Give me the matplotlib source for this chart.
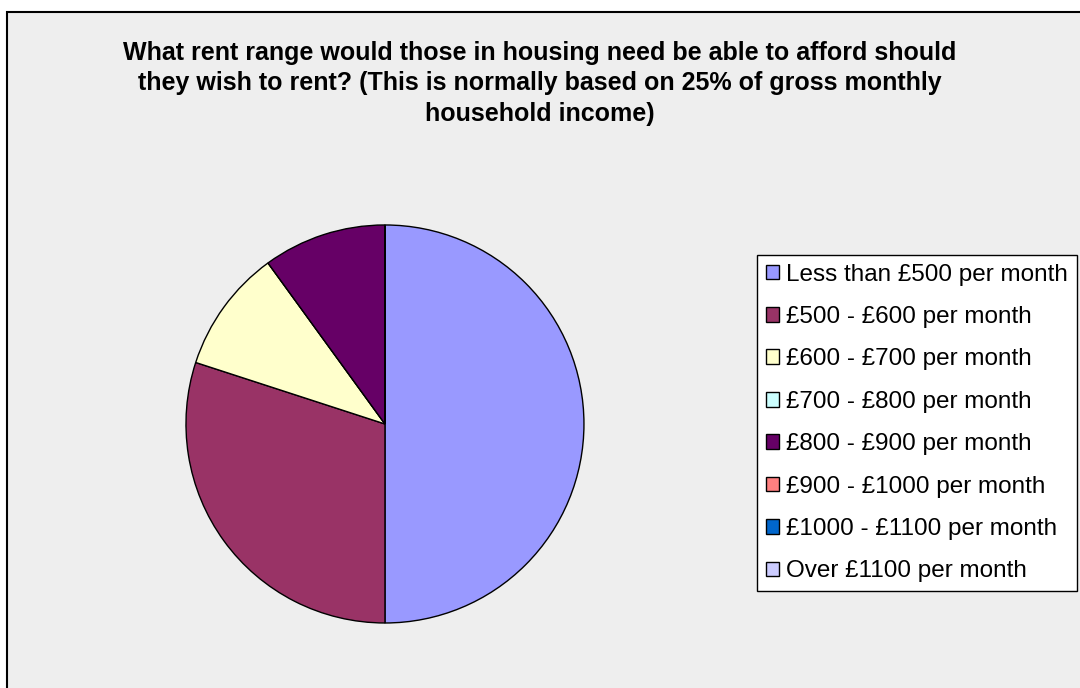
import matplotlib.pyplot as plt
from matplotlib.patches import Rectangle

plt.rcParams['font.family'] = ['Liberation Sans', 'DejaVu Sans']

# Rent bands and share of households (percent)
bands = ['Less than £500 per month', '£500 - £600 per month', '£600 - £700 per month',
         '£700 - £800 per month', '£800 - £900 per month', '£900 - £1000 per month',
         '£1000 - £1100 per month', 'Over £1100 per month']
shares = [50, 30, 10, 0, 10, 0, 0, 0]
colours = ['#9999FF', '#993366', '#FFFFCC', '#CCFFFF', '#660066', '#FF8080', '#0066CC', '#CCCCFF']

title = ('What rent range would those in housing need be able to afford should\n'
         'they wish to rent? (This is normally based on 25% of gross monthly\n'
         'household income)')

fig = plt.figure(figsize=(10.8, 6.88), dpi=100)
fig.patch.set_facecolor('white')

# grey chart area with a black border (runs off the right and bottom edges)
fig.patches.append(Rectangle((7 / 1080, -0.05), 1.1, 1 - 12 / 688 + 0.05,
                             transform=fig.transFigure, facecolor='#EEEEEE',
                             edgecolor='black', linewidth=1.5, zorder=-5))

fig.text(0.5, 1 - 41 / 688, title, ha='center', va='top', fontsize=18,
         fontweight='bold', linespacing=1.33)

ax = fig.add_axes([0.1722, 0.0945, 0.3685, 0.5785])
ax.patch.set_visible(False)
wedges, _ = ax.pie(shares, colors=colours, startangle=90, counterclock=False,
                   wedgeprops={'edgecolor': 'black', 'linewidth': 1})
ax.set_xlim(-1, 1)
ax.set_ylim(-1, 1)
ax.set_aspect('auto')

leg = fig.legend(wedges, bands, loc='center left', bbox_to_anchor=(757 / 1080, 1 - 423 / 688),
                 fontsize=17.5, frameon=True, fancybox=False, edgecolor='black',
                 facecolor='white', framealpha=1, handlelength=0.55, handleheight=0.55,
                 handletextpad=0.3, labelspacing=0.84, borderpad=0.35, borderaxespad=0)
leg.get_frame().set_linewidth(1)

fig.savefig('out.png', dpi=100)
